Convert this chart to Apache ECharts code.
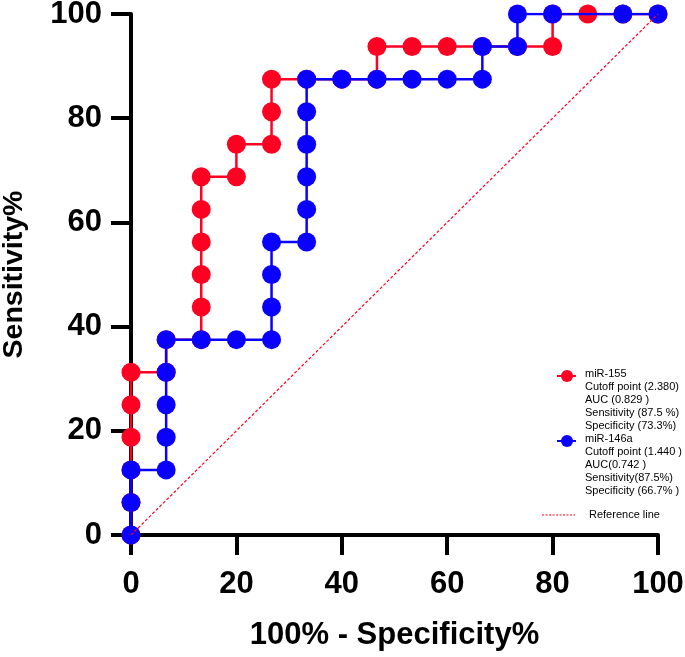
<!DOCTYPE html>
<html><head><meta charset="utf-8">
<script src="https://cdn.jsdelivr.net/npm/echarts@6/dist/echarts.min.js"></script>
<style>html,body{margin:0;padding:0;background:#fff}#c{width:685px;height:657px}</style>
</head><body><div id="c"></div>
<script>
// 100% - Specificity% (x) and Sensitivity% (y) for each ROC curve
const mir155X = [0,0,0,0,0,0,6.67,6.67,13.33,13.33,13.33,13.33,13.33,13.33,20,20,26.67,26.67,26.67,33.33,40,46.67,46.67,53.33,60,66.67,73.33,80,80,86.67,93.33,100];
const mir155Y = [0,6.25,12.5,18.75,25,31.25,31.25,37.5,37.5,43.75,50,56.25,62.5,68.75,68.75,75,75,81.25,87.5,87.5,87.5,87.5,93.75,93.75,93.75,93.75,93.75,93.75,100,100,100,100];
const mir146aX = [0,0,0,6.67,6.67,6.67,6.67,6.67,13.33,20,26.67,26.67,26.67,26.67,33.33,33.33,33.33,33.33,33.33,33.33,40,46.67,53.33,60,66.67,66.67,73.33,73.33,80,93.33,100];
const mir146aY = [0,6.25,12.5,12.5,18.75,25,31.25,37.5,37.5,37.5,37.5,43.75,50,56.25,56.25,62.5,68.75,75,81.25,87.5,87.5,87.5,87.5,87.5,87.5,93.75,93.75,100,100,100,100];
const refX = [0,100];
const refY = [0,100];
const ticks = [0,20,40,60,80,100];
const mir155Text = ['miR-155','Cutoff point (2.380)','AUC (0.829 )','Sensitivity (87.5 %)','Specificity (73.3%)'];
const mir146aText = ['miR-146a','Cutoff point (1.440 )','AUC(0.742 )','Sensitivity(87.5%)','Specificity (66.7% )'];
const refText = 'Reference line';

const zip = (xs, ys) => xs.map((x, i) => [x, ys[i]]);
const chart = echarts.init(document.getElementById('c'));
const FONT = '"Liberation Sans", Arial, sans-serif';
const RED = '#ff0022', BLUE = '#0a00ff';

function axis(isX) {
  return {
    type: 'value', min: 0, max: 100, interval: 20,
    name: isX ? '100% - Specificity%' : 'Sensitivity%',
    nameLocation: 'middle', nameGap: isX ? 85 : 102,
    nameTextStyle: {fontFamily: FONT, fontWeight: 'bold', fontSize: isX ? 31 : 28.5, color: '#000'},
    axisLine: {show: true, lineStyle: {color: '#000', width: 4}},
    axisTick: {show: true, length: 20, lineStyle: {color: '#000', width: 4}},
    axisLabel: {fontFamily: FONT, fontWeight: 'bold', fontSize: 31, color: '#000', margin: isX ? 34 : 29,
      formatter: v => ticks.includes(v) ? String(v) : ''},
    splitLine: {show: false}
  };
}

const gfx = [];
function addLegend(y0, color, lines) {
  gfx.push({type: 'line', shape: {x1: 557, y1: y0 + 2, x2: 576, y2: y0 + 2}, style: {stroke: color, lineWidth: 2}, z: 10});
  gfx.push({type: 'circle', shape: {cx: 567, cy: y0 + 2, r: 6}, style: {fill: color}, z: 11});
  lines.forEach((t, i) => gfx.push({type: 'text', x: 585, y: y0 + i * 13, z: 10,
    style: {text: t, fill: '#000', font: '11px ' + FONT, textVerticalAlign: 'middle'}}));
}
addLegend(374, RED, mir155Text);
addLegend(439, BLUE, mir146aText);
gfx.push({type: 'line', shape: {x1: 542, y1: 515, x2: 575, y2: 515}, style: {stroke: RED, lineWidth: 1.2, lineDash: [2, 1.5]}, z: 10});
gfx.push({type: 'text', x: 589, y: 515, z: 10, style: {text: refText, fill: '#000', font: '11px ' + FONT, textVerticalAlign: 'middle'}});

chart.setOption({
  animation: false,
  backgroundColor: '#fff',
  grid: {left: 131, right: 27, top: 14, bottom: 122, containLabel: false, outerBoundsMode: 'none'},
  xAxis: axis(true),
  yAxis: axis(false),
  graphic: gfx,
  series: [
    {type: 'line', name: 'miR-155', data: zip(mir155X, mir155Y), symbol: 'circle', symbolSize: 19,
      itemStyle: {color: RED}, lineStyle: {color: RED, width: 2.5}, z: 3},
    {type: 'line', name: 'miR-146a', data: zip(mir146aX, mir146aY), symbol: 'circle', symbolSize: 19,
      itemStyle: {color: BLUE}, lineStyle: {color: BLUE, width: 2.5}, z: 4},
    {type: 'line', name: 'Reference line', data: zip(refX, refY), symbol: 'none',
      lineStyle: {color: RED, width: 1.2, type: [3, 2]}, z: 5}
  ]
});
</script></body></html>
